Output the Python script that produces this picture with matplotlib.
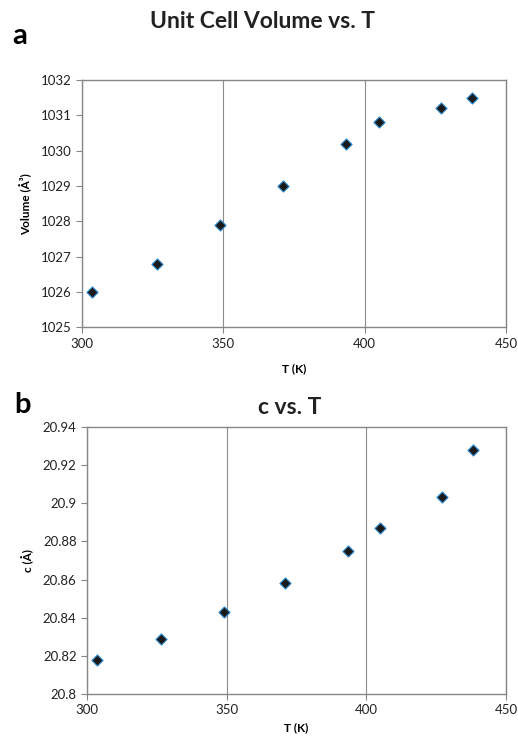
import matplotlib
matplotlib.use('Agg')
import matplotlib.pyplot as plt
import numpy as np

plt.rcParams['font.family'] = ['Lato', 'DejaVu Sans']

# 数据
T = [303.5, 326.5, 349, 371, 393.5, 405, 427, 438]
volume = [1026.0, 1026.8, 1027.9, 1029.0, 1030.2, 1030.8, 1031.2, 1031.5]
c_axis = [20.818, 20.829, 20.843, 20.858, 20.875, 20.887, 20.903, 20.928]

x_ticks = [300, 350, 400, 450]
v_ticks = [1025, 1026, 1027, 1028, 1029, 1030, 1031, 1032]
c_ticks = [20.8, 20.82, 20.84, 20.86, 20.88, 20.9, 20.92, 20.94]
c_labels = ['20.8', '20.82', '20.84', '20.86', '20.88', '20.9', '20.92', '20.94']

fig = plt.figure(figsize=(5.18, 7.42), dpi=100)

def style(ax):
    for s in ax.spines.values():
        s.set_color('#868686')
        s.set_linewidth(1.0)
    ax.tick_params(direction='out', length=4, color='#868686', labelsize=9.5, labelcolor='#222222')
    ax.xaxis.grid(True, color='#8c8c8c', linewidth=0.8)
    ax.yaxis.grid(False)
    ax.set_axisbelow(True)

ax1 = fig.add_axes([0.158, 0.559, 0.819, 0.333])
ax1.scatter(T, volume, marker='D', s=32, facecolor='#1a1a1a', edgecolor='#2a8ad0', linewidth=0.8, zorder=3)
ax1.set_xlim(300, 450)
ax1.set_ylim(1025, 1032)
ax1.set_xticks(x_ticks)
ax1.set_yticks(v_ticks)
style(ax1)
ax1.set_xlabel('T (K)', fontsize=8.5, fontweight='bold', labelpad=10)
ax1.set_ylabel('Volume (Å³)', fontsize=8.5, fontweight='bold', labelpad=6)

ax2 = fig.add_axes([0.168, 0.0647, 0.809, 0.36])
ax2.scatter(T, c_axis, marker='D', s=32, facecolor='#1a1a1a', edgecolor='#2a8ad0', linewidth=0.8, zorder=3)
ax2.set_xlim(300, 450)
ax2.set_ylim(20.8, 20.94)
ax2.set_xticks(x_ticks)
ax2.set_yticks(c_ticks)
ax2.set_yticklabels(c_labels)
style(ax2)
ax2.set_xlabel('T (K)', fontsize=8.5, fontweight='bold', labelpad=4)
ax2.set_ylabel('c (Å)', fontsize=8.5, fontweight='bold', labelpad=6)

fig.text(262/518, 1 - 22/742, 'Unit Cell Volume vs. T', fontsize=16.5, fontweight='bold',
         ha='center', va='center', color='#222222')
fig.text(290/518, 1 - 408/742, 'c vs. T', fontsize=16.5, fontweight='bold',
         ha='center', va='center', color='#222222')
fig.text(20/518, 1 - 36/742, 'a', fontsize=21, fontweight='bold', ha='center', va='center')
fig.text(22/518, 1 - 405/742, 'b', fontsize=21, fontweight='bold', ha='center', va='center')

plt.savefig('out.png', dpi=100)
